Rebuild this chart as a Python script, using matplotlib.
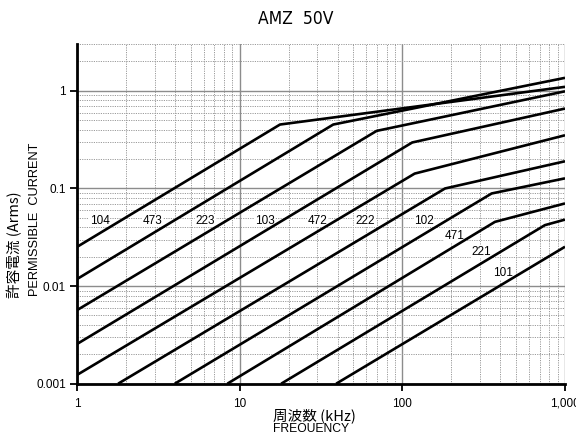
import matplotlib
matplotlib.use("Agg")
import matplotlib.pyplot as plt
from matplotlib.ticker import FixedLocator, LogLocator, NullFormatter

# capacitance codes and their curves (frequency kHz, current Arms)
caps = ["104", "473", "223", "103", "472", "222", "102", "471", "221", "101"]
curve_f = [
    [1, 17.7, 1000],
    [1, 37.6, 1000],
    [1, 69.5, 1000],
    [1, 115, 1000],
    [1, 119, 1000],
    [1.79, 183, 1000],
    [3.99, 354, 1000],
    [8.4, 371, 1000],
    [18.0, 752, 1000],
    [39.2, 1000],
]
curve_i = [
    [0.0252, 0.452, 1.10],
    [0.0118, 0.452, 1.36],
    [0.00567, 0.389, 0.99],
    [0.00255, 0.296, 0.659],
    [0.00123, 0.142, 0.351],
    [0.001, 0.100, 0.190],
    [0.001, 0.0889, 0.127],
    [0.001, 0.0455, 0.0703],
    [0.001, 0.0421, 0.048],
    [0.001, 0.0253],
]
# label positions of the codes
label_f = [1.38, 2.92, 6.18, 14.2, 30.0, 58.9, 135.7, 210, 307, 413]
label_i = [0.0466, 0.0466, 0.0466, 0.0466, 0.0466, 0.0466, 0.0466, 0.0325, 0.0224, 0.0135]

xticks = [1, 10, 100, 1000]
xticklabels = ["1", "10", "100", "1,000"]
yticks = [0.001, 0.01, 0.1, 1]
yticklabels = ["0.001", "0.01", "0.1", "1"]

plt.rcParams["font.family"] = ["Liberation Sans", "Noto Sans CJK JP", "DejaVu Sans"]
jp = ["Noto Sans CJK JP", "DejaVu Sans"]

fig = plt.figure(figsize=(5.76, 4.32), dpi=100)
ax = fig.add_axes([77/576, 1-383.7/432, (565-77)/576, (383.7-44.3)/432])

for f, i in zip(curve_f, curve_i):
    ax.plot(f, i, color="black", lw=1.9, zorder=4, solid_capstyle="butt")

for c, f, i in zip(caps, label_f, label_i):
    ax.text(f, i, c, fontsize=8.5, ha="center", va="center", zorder=3,
            bbox=dict(facecolor="white", edgecolor="none", pad=0.3))

ax.set_xscale("log")
ax.set_yscale("log")
ax.set_xlim(1, 1000)
ax.set_ylim(0.001, 3)

ax.xaxis.set_major_locator(FixedLocator(xticks))
ax.set_xticklabels(xticklabels)
ax.yaxis.set_major_locator(FixedLocator(yticks))
ax.set_yticklabels(yticklabels)
ax.xaxis.set_minor_locator(LogLocator(base=10, subs=range(2, 10)))
ax.yaxis.set_minor_locator(LogLocator(base=10, subs=range(2, 10)))
ax.xaxis.set_minor_formatter(NullFormatter())
ax.yaxis.set_minor_formatter(NullFormatter())

ax.grid(which="major", color="#8c8c8c", lw=1.0, ls="-", zorder=1)
ax.grid(which="minor", color="#9a9a9a", lw=0.7, ls=(0, (1.2, 1.2)), zorder=1)
ax.set_axisbelow(True)

ax.spines["top"].set_visible(False)
ax.spines["right"].set_visible(False)
ax.spines["left"].set_linewidth(2)
ax.spines["bottom"].set_linewidth(2)
ax.tick_params(which="major", length=5, width=1.3, labelsize=8.5, pad=3)
ax.tick_params(axis="x", which="major", pad=5)
ax.tick_params(which="minor", length=0)

fig.text(295.5/576, 1-18.5/432, "AMZ  50V", ha="center", va="center",
         fontsize=12.5, family="DejaVu Sans", stretch="condensed")

fig.text(15/576, 1-298/432, "許容電流 (Arms)", rotation=90, ha="center", va="bottom",
         fontsize=10.5, family=jp)
fig.text(35/576, 1-296/432, "PERMISSIBLE  CURRENT", rotation=90, ha="center", va="bottom",
         fontsize=9.2)
fig.text(273/576, 1-416/432, "周波数 (kHz)", ha="left", va="center", fontsize=10.5, family=jp)
fig.text(273/576, 1-429/432, "FREQUENCY", ha="left", va="center", fontsize=8.7)

fig.savefig("out.png", dpi=100)
